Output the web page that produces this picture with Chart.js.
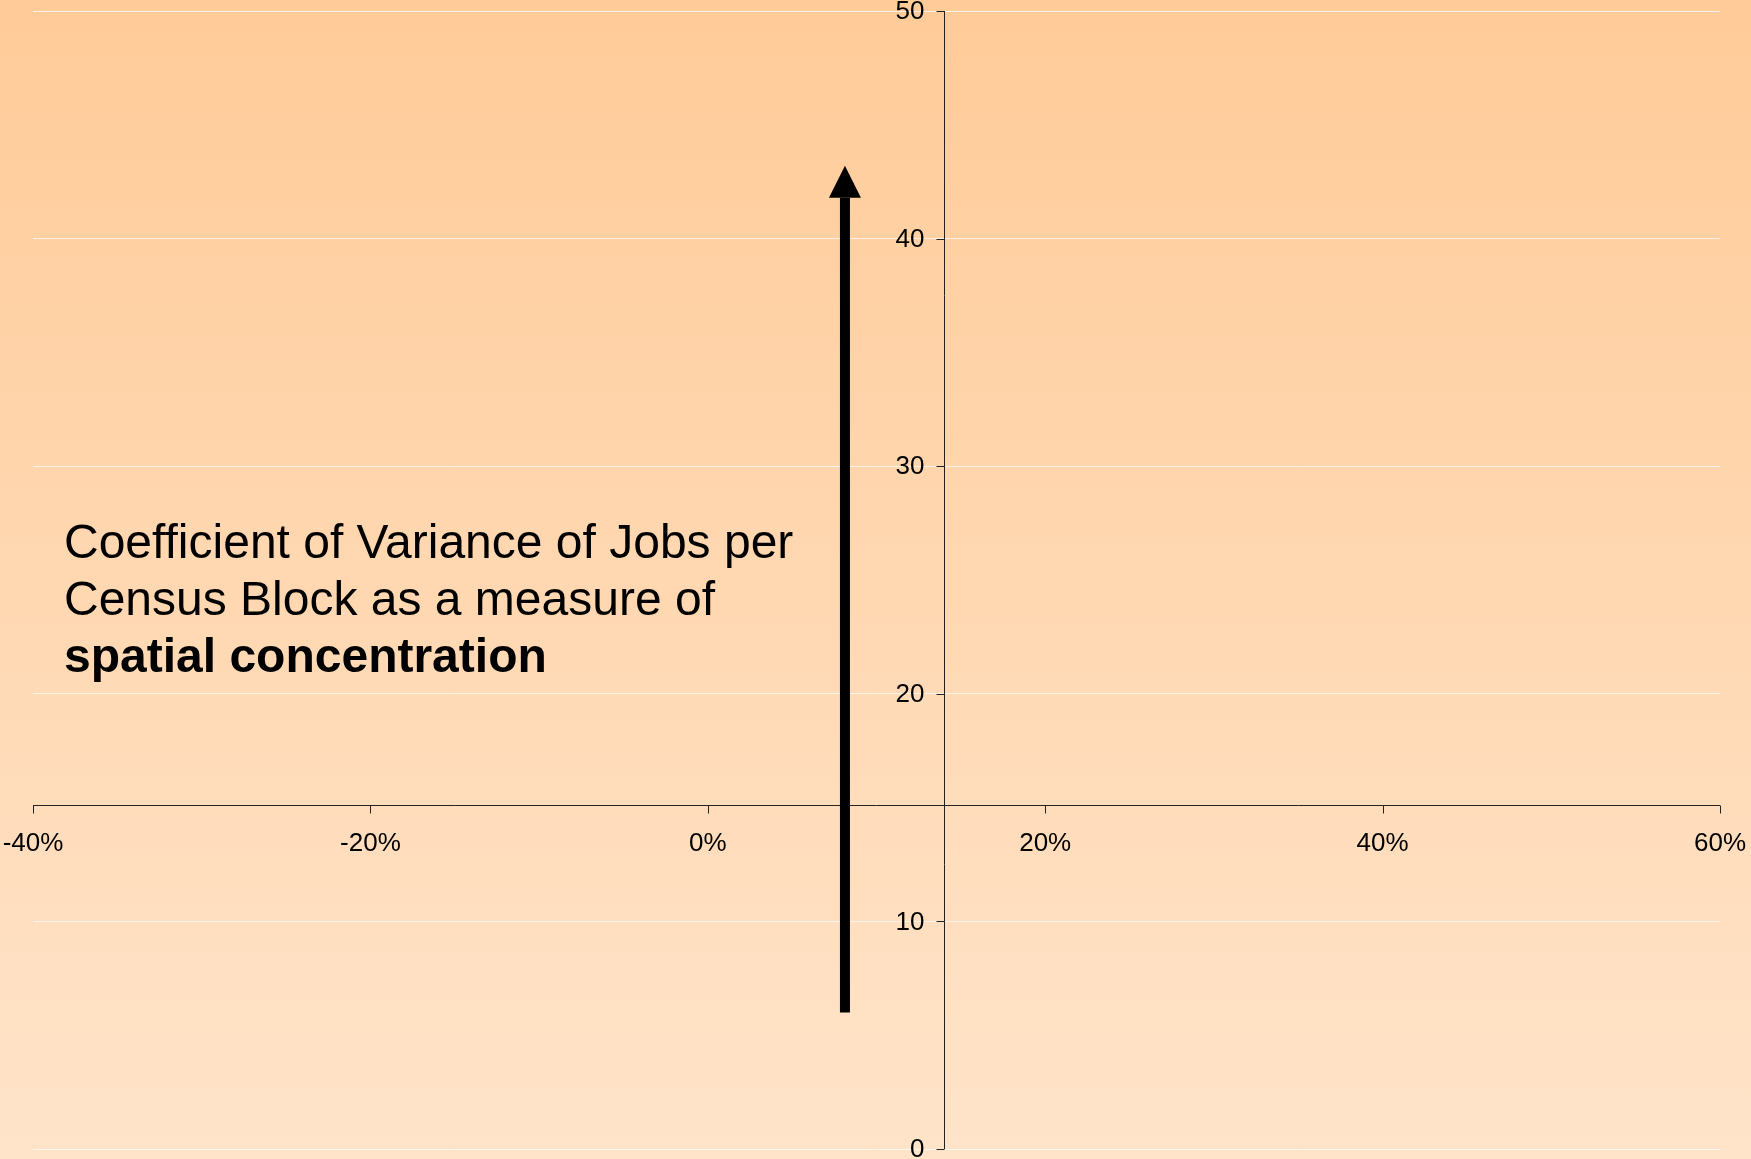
<!DOCTYPE html>
<html>
<head>
<meta charset="utf-8">
<script src="https://cdn.jsdelivr.net/npm/chart.js@4/dist/chart.umd.min.js"></script>
<style>
  html, body { margin: 0; padding: 0; background: #ffe4ca; }
  #wrap { position: relative; width: 1751px; height: 1159px; overflow: hidden; }
  #note {
    position: absolute; left: 64px; top: 513px;
    font-family: "Liberation Sans", Arial, sans-serif;
    font-size: 48px; line-height: 57px; color: #000;
    white-space: nowrap;
  }
  #note b { font-weight: bold; }
</style>
</head>
<body>
<div id="wrap">
  <canvas id="c" width="1751" height="1159"></canvas>
  <div id="note">Coefficient of Variance of Jobs per<br>Census Block as a measure of<br><b>spatial concentration</b></div>
</div>
<script>
// axis ranges and ticks
const xTickValues = [-0.4, -0.2, 0, 0.2, 0.4, 0.6];
const yTickValues = [0, 10, 20, 30, 40, 50];
// where the axes cross each other
const axisCrossX = 0.14;
const axisCrossY = 15.1;
// the arrow (shaft points, then head tip)
const arrowX = [0.0813, 0.0813];
const arrowY = [6, 41.8];
const arrowTipY = 43.2;

const font = '"Liberation Sans", Arial, sans-serif';

const axesPlugin = {
	id: 'crossAxes',
	beforeDraw: function(chart){
		const ctx = chart.ctx;
		const g = ctx.createLinearGradient(0, 0, 0, chart.height);
		g.addColorStop(0, '#ffcb98');
		g.addColorStop(1, '#ffe4ca');
		ctx.save();
		ctx.fillStyle = g;
		ctx.fillRect(0, 0, chart.width, chart.height);
		ctx.restore();
	},
	beforeDatasetsDraw: function(chart){
		const ctx = chart.ctx;
		const xs = chart.scales.x, ys = chart.scales.y;
		const ax = Math.round(xs.getPixelForValue(axisCrossX)) + 0.5;
		const ay = Math.round(ys.getPixelForValue(axisCrossY)) + 0.5;
		let i, p;
		ctx.save();
		ctx.strokeStyle = '#222222';
		ctx.lineWidth = 1;
		ctx.beginPath();
		// x axis line + ticks
		ctx.moveTo(xs.left, ay); ctx.lineTo(xs.right, ay);
		for(i = 0; i < xTickValues.length; i++){
			p = Math.round(xs.getPixelForValue(xTickValues[i])) + 0.5;
			ctx.moveTo(p, ay); ctx.lineTo(p, ay + 8);
		}
		// y axis line + ticks
		ctx.moveTo(ax, ys.top); ctx.lineTo(ax, ys.bottom);
		for(i = 0; i < yTickValues.length; i++){
			p = Math.round(ys.getPixelForValue(yTickValues[i])) + 0.5;
			ctx.moveTo(ax - 8, p); ctx.lineTo(ax, p);
		}
		ctx.stroke();

		// labels
		ctx.fillStyle = '#000000';
		ctx.font = '26px ' + font;
		ctx.textAlign = 'center';
		ctx.textBaseline = 'middle';
		for(i = 0; i < xTickValues.length; i++){
			ctx.fillText(Math.round(xTickValues[i]*100) + '%', xs.getPixelForValue(xTickValues[i]), ay + 38);
		}
		ctx.textAlign = 'right';
		for(i = 0; i < yTickValues.length; i++){
			ctx.fillText(String(yTickValues[i]), ax - 20, ys.getPixelForValue(yTickValues[i]) + 1);
		}
		ctx.restore();
	},
	afterDatasetsDraw: function(chart){
		// arrow head on top of the shaft
		const ctx = chart.ctx;
		const xs = chart.scales.x, ys = chart.scales.y;
		const px = xs.getPixelForValue(arrowX[arrowX.length-1]);
		const base = ys.getPixelForValue(arrowY[arrowY.length-1]);
		const tip = ys.getPixelForValue(arrowTipY);
		ctx.save();
		ctx.fillStyle = '#000000';
		ctx.beginPath();
		ctx.moveTo(px, tip);
		ctx.lineTo(px + 16, base);
		ctx.lineTo(px - 16, base);
		ctx.closePath();
		ctx.fill();
		ctx.restore();
	}
};

new Chart(document.getElementById('c'), {
	type: 'line',
	data: {
		datasets: [{
			label: 'arrow',
			data: arrowX.map(function(x, i){ return {x: x, y: arrowY[i]}; }),
			borderColor: '#000000',
			borderWidth: 10,
			borderCapStyle: 'butt',
			pointRadius: 0,
			fill: false
		}]
	},
	options: {
		responsive: false,
		animation: false,
		devicePixelRatio: 1,
		layout: { padding: { left: 33, right: 31, top: 11, bottom: 10 } },
		plugins: { legend: { display: false }, tooltip: { enabled: false } },
		scales: {
			x: {
				type: 'linear',
				min: xTickValues[0], max: xTickValues[xTickValues.length-1],
				afterBuildTicks: function(s){ s.ticks = xTickValues.map(function(v){ return {value: v}; }); },
				grid: { display: false, drawTicks: false },
				border: { display: false },
				ticks: { display: false }
			},
			y: {
				type: 'linear',
				min: yTickValues[0], max: yTickValues[yTickValues.length-1],
				afterBuildTicks: function(s){ s.ticks = yTickValues.map(function(v){ return {value: v}; }); },
				grid: { display: true, drawTicks: false, color: 'rgba(255,248,240,0.85)', lineWidth: 1 },
				border: { display: false },
				ticks: { display: false }
			}
		}
	},
	plugins: [axesPlugin]
});
</script>
</body>
</html>
